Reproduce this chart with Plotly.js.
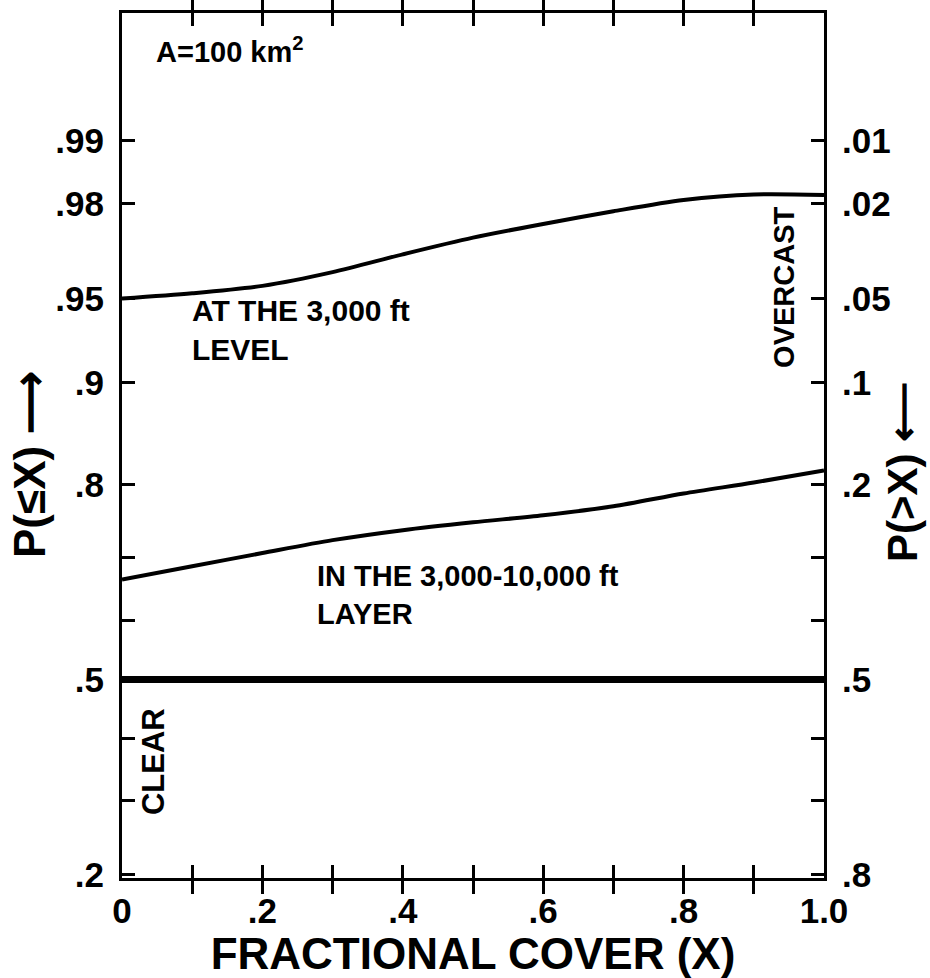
<!DOCTYPE html>
<html><head><meta charset="utf-8">
<script src="https://cdn.plot.ly/plotly-3.0.1.min.js"></script>
<style>html,body{margin:0;padding:0;background:#fff}</style>
</head><body>
<div id="chart" style="width:930px;height:978px"></div>
<script>
// ---- data ----
const fractionalCover = [0, 0.1, 0.2, 0.3, 0.4, 0.5, 0.6, 0.7, 0.8, 0.9, 1.0];
const pAt3000ftLevel = [0.950, 0.9523, 0.9554, 0.9607, 0.9668, 0.9718, 0.9754, 0.9784, 0.9808, 0.9819, 0.9818];
const pIn3000to10000ftLayer = [0.667, 0.6875, 0.7074, 0.7262, 0.7404, 0.7513, 0.7607, 0.7726, 0.7890, 0.8024, 0.8165];
const clearLineX = [0, 1];
const clearLineP = [0.5, 0.5];

const probTicks = [0.2, 0.3, 0.4, 0.5, 0.6, 0.7, 0.8, 0.9, 0.95, 0.98, 0.99];
const leftTickText = ['.2', '', '', '.5', '', '', '.8', '.9', '.95', '.98', '.99'];
const rightTickText = ['.8', '', '', '.5', '', '', '.2', '.1', '.05', '.02', '.01'];
const xTickVals = [0, 0.1, 0.2, 0.3, 0.4, 0.5, 0.6, 0.7, 0.8, 0.9, 1.0];
const xTickText = ['0', '', '.2', '', '.4', '', '.6', '', '.8', '', '1.0'];
const probRange = [0.1955, 0.998];

// inverse standard normal CDF (probability-paper scale)
function invNorm(p) {
  const a = [-3.969683028665376e+01, 2.209460984245205e+02, -2.759285104469687e+02, 1.383577518672690e+02, -3.066479806614716e+01, 2.506628277459239e+00];
  const b = [-5.447609879822406e+01, 1.615858368580409e+02, -1.556989798598866e+02, 6.680131188771972e+01, -1.328068155288572e+01];
  const c = [-7.784894002430293e-03, -3.223964580411365e-01, -2.400758277161838e+00, -2.549732539343734e+00, 4.374664141464968e+00, 2.938163982698783e+00];
  const d = [7.784695709041462e-03, 3.224671290700398e-01, 2.445134137142996e+00, 3.754408661907416e+00];
  const plow = 0.02425, phigh = 1 - plow;
  let q, r;
  if (p < plow) {
    q = Math.sqrt(-2 * Math.log(p));
    return (((((c[0]*q+c[1])*q+c[2])*q+c[3])*q+c[4])*q+c[5]) / ((((d[0]*q+d[1])*q+d[2])*q+d[3])*q+1);
  } else if (p <= phigh) {
    q = p - 0.5; r = q*q;
    return (((((a[0]*r+a[1])*r+a[2])*r+a[3])*r+a[4])*r+a[5])*q / (((((b[0]*r+b[1])*r+b[2])*r+b[3])*r+b[4])*r+1);
  } else {
    q = Math.sqrt(-2 * Math.log(1 - p));
    return -(((((c[0]*q+c[1])*q+c[2])*q+c[3])*q+c[4])*q+c[5]) / ((((d[0]*q+d[1])*q+d[2])*q+d[3])*q+1);
  }
}
const z = arr => arr.map(invNorm);

const FONT = 'Liberation Sans, Arial, sans-serif';
const lineStyle = {color: '#000', width: 4, shape: 'spline', smoothing: 0.8};

const traces = [
  {x: fractionalCover, y: z(pAt3000ftLevel), mode: 'lines', line: lineStyle, name: 'At the 3,000 ft level', hoverinfo: 'skip'},
  {x: fractionalCover, y: z(pIn3000to10000ftLayer), mode: 'lines', line: lineStyle, name: 'In the 3,000-10,000 ft layer', hoverinfo: 'skip'},
  {x: clearLineX, y: z(clearLineP), mode: 'lines', line: {color: '#000', width: 7}, name: 'P = .5', hoverinfo: 'skip'},
  {x: clearLineX, y: z(clearLineP), mode: 'lines', line: {color: 'rgba(0,0,0,0)', width: 0}, yaxis: 'y2', hoverinfo: 'skip', showlegend: false}
];

const axisCommon = {
  showline: true, linecolor: '#000', linewidth: 3,
  ticks: 'inside', ticklen: 13, tickwidth: 3, tickcolor: '#000',
  showgrid: false, zeroline: false,
  tickfont: {family: FONT, size: 35, color: '#000', weight: 'bold'}
};

const yRange = probRange.map(invNorm);
const titleFont = {family: FONT, size: 44, weight: 'bold', color: '#000'};
const textFont = s => ({family: FONT, size: s, weight: 'bold', color: '#000'});

const layout = {
  width: 930, height: 978,
  margin: {l: 122, r: 106, t: 13, b: 100},
  paper_bgcolor: '#fff', plot_bgcolor: '#fff',
  showlegend: false,
  font: {family: FONT, color: '#000', weight: 'bold'},
  xaxis: Object.assign({}, axisCommon, {
    range: [0, 1], tickmode: 'array', tickvals: xTickVals, ticktext: xTickText,
    mirror: 'allticks', ticklabelstandoff: 0,
    title: {text: 'FRACTIONAL COVER (X)', font: titleFont, standoff: 4}
  }),
  yaxis: Object.assign({}, axisCommon, {
    range: yRange, tickmode: 'array', tickvals: z(probTicks), ticktext: leftTickText,
    ticklabelstandoff: 8
  }),
  yaxis2: Object.assign({}, axisCommon, {
    range: yRange, tickmode: 'array', tickvals: z(probTicks), ticktext: rightTickText,
    overlaying: 'y', side: 'right', ticklabelstandoff: 8
  }),
  annotations: [
    {text: 'P(≤X) ⟶', xref: 'paper', yref: 'paper', x: -0.131, y: 0.4775, textangle: -90, xanchor: 'center', yanchor: 'middle', showarrow: false, font: titleFont},
    {text: 'P(>X) ⟵', xref: 'paper', yref: 'paper', x: 1.112, y: 0.469, textangle: -90, xanchor: 'center', yanchor: 'middle', showarrow: false, font: textFont(42)},
    {text: 'A=100 km<sup>2</sup>', xref: 'paper', yref: 'paper', x: 0.045, y: 0.957, xanchor: 'left', yanchor: 'middle', showarrow: false, font: textFont(29)},
    {text: 'AT THE 3,000 ft<br>LEVEL', xref: 'paper', yref: 'paper', x: 0.097, y: 0.633, xanchor: 'left', yanchor: 'middle', align: 'left', showarrow: false, font: textFont(30)},
    {text: 'IN THE 3,000-10,000 ft<br>LAYER', xref: 'paper', yref: 'paper', x: 0.275, y: 0.327, xanchor: 'left', yanchor: 'middle', align: 'left', showarrow: false, font: textFont(29)},
    {text: 'OVERCAST', xref: 'paper', yref: 'paper', x: 0.944, y: 0.683, textangle: -90, xanchor: 'center', yanchor: 'middle', showarrow: false, font: textFont(29)},
    {text: 'CLEAR', xref: 'paper', yref: 'paper', x: 0.044, y: 0.135, textangle: -90, xanchor: 'center', yanchor: 'middle', showarrow: false, font: textFont(31)}
  ]
};

Plotly.newPlot('chart', traces, layout, {staticPlot: true, displayModeBar: false});
</script>
</body></html>
